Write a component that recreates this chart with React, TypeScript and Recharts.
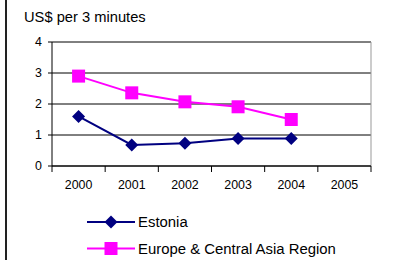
import React from 'react';
import { LineChart, Line, XAxis, YAxis, CartesianGrid, ReferenceLine } from 'recharts';

const years = ['2000', '2001', '2002', '2003', '2004', '2005'];
const estonia = [1.6, 0.68, 0.73, 0.89, 0.89, null];
const europe = [2.9, 2.36, 2.07, 1.91, 1.5, null];
const yTicks = [0, 1, 2, 3, 4];

const SERIES = [
  { key: 'estonia', name: 'Estonia', color: '#000080', shape: 'diamond' },
  { key: 'europe', name: 'Europe & Central Asia Region', color: '#FF00FF', shape: 'square' },
];

const FONT = 'Arial, "Liberation Sans", sans-serif';

// categories sit between the boundary ticks, Excel style
const data = years.map((y, i) => ({
  x: i + 0.5,
  year: y,
  estonia: estonia[i],
  europe: europe[i],
}));

const Marker = ({ cx, cy, shape, color }: any) => {
  if (cx == null || cy == null || isNaN(cy)) return null;
  if (shape === 'diamond') {
    const r = 6.5;
    return <polygon points={`${cx},${cy - r} ${cx + r},${cy} ${cx},${cy + r} ${cx - r},${cy}`} fill={color} />;
  }
  const s = 6.5;
  return <rect x={cx - s} y={cy - s} width={s * 2} height={s * 2} fill={color} />;
};

const App: React.FC = () => {
  return (
    <div style={{ position: 'absolute', left: 0, top: 0, width: 397, height: 260, background: '#fff', fontFamily: FONT }}>
      {/* left frame edge */}
      <div style={{ position: 'absolute', left: 5, top: 0, width: 2, height: 260, background: '#222' }} />

      <LineChart width={397} height={260} data={data} margin={{ top: 42, right: 26, left: 0, bottom: 64 }}>
        <CartesianGrid vertical={false} stroke="#000" strokeWidth={1} />
        <XAxis
          dataKey="x"
          type="number"
          domain={[0, 6]}
          ticks={[0, 1, 2, 3, 4, 5, 6]}
          tickFormatter={() => ''}
          height={6}
          tickSize={6}
          stroke="#000"
          interval={0}
        />
        <XAxis
          xAxisId="labels"
          dataKey="x"
          type="number"
          domain={[0, 6]}
          ticks={data.map(d => d.x)}
          tickFormatter={(v: number) => years[Math.floor(v)]}
          height={24}
          axisLine={false}
          tickLine={false}
          tickSize={6}
          tickMargin={2}
          interval={0}
          tick={{ fill: '#000', fontSize: 12.4, fontFamily: FONT }}
        />
        <YAxis
          type="number"
          domain={[0, 4]}
          ticks={yTicks}
          width={52}
          tickSize={4}
          tickMargin={6}
          stroke="#000"
          interval={0}
          tick={{ fill: '#000', fontSize: 12.4, fontFamily: FONT }}
        />
        <ReferenceLine x={6} stroke="#999" strokeWidth={1} />
        {SERIES.map(s => (
          <Line
            key={s.key}
            dataKey={s.key}
            name={s.name}
            stroke={s.color}
            strokeWidth={2}
            isAnimationActive={false}
            connectNulls={false}
            dot={(p: any) => <Marker key={`${s.key}-${p.index}`} cx={p.cx} cy={p.cy} shape={s.shape} color={s.color} />}
            activeDot={false}
          />
        ))}
      </LineChart>

      {/* title and legend */}
      <svg width={397} height={260} style={{ position: 'absolute', left: 0, top: 0, pointerEvents: 'none' }}>
        <text x={24} y={22} fontSize={14.7} fontFamily={FONT} fill="#000">US$ per 3 minutes</text>
        {SERIES.map((s, i) => {
          const y = 222 + i * 26.5;
          return (
            <g key={s.key}>
              <line x1={87} x2={135} y1={y} y2={y} stroke={s.color} strokeWidth={2} />
              <Marker cx={111} cy={y} shape={s.shape} color={s.color} />
              <text x={138} y={y + 5.3} fontSize={14.9} fontFamily={FONT} fill="#000">{s.name}</text>
            </g>
          );
        })}
      </svg>
    </div>
  );
};

export default App;
